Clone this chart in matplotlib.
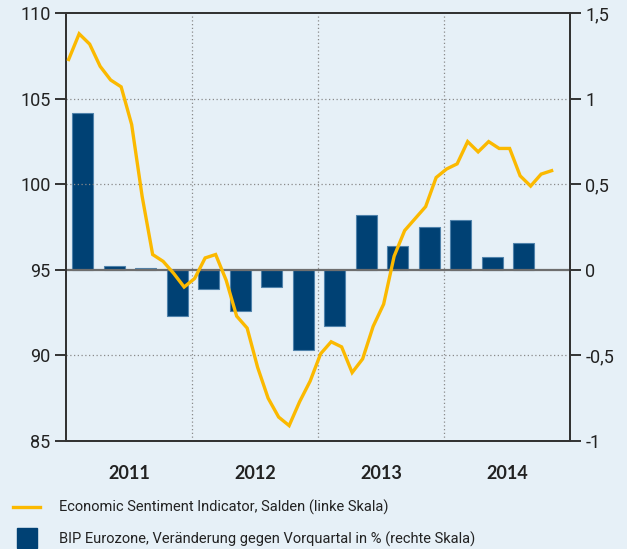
import numpy as np
import matplotlib
matplotlib.use('Agg')
import matplotlib.pyplot as plt
from matplotlib.lines import Line2D

plt.rcParams['font.family'] = ['Roboto', 'DejaVu Sans']

# Economic Sentiment Indicator, monthly Jan 2011 - Nov 2014 (left scale)
esi = [107.3, 108.8, 108.2, 106.9, 106.1, 105.7, 103.5, 99.3, 95.9, 95.5,
       94.8, 94.0, 94.5, 95.7, 95.9, 94.4, 92.3, 91.6, 89.3, 87.5,
       86.4, 85.9, 87.3, 88.5, 90.1, 90.8, 90.5, 89.0, 89.8, 91.7,
       93.0, 95.8, 97.3, 98.0, 98.7, 100.4, 100.9, 101.2, 102.5, 101.9,
       102.5, 102.1, 102.1, 100.5, 99.9, 100.6, 100.8]

# BIP Eurozone, quarter on quarter in % (right scale), Q1 2011 - Q3 2014
bip = [0.92, 0.02, 0.01, -0.27, -0.11, -0.24, -0.10, -0.47,
       -0.33, 0.32, 0.14, 0.25, 0.29, 0.075, 0.16]

years = ['2011', '2012', '2013', '2014']
left_ticks = [85, 90, 95, 100, 105, 110]
right_ticks = [-1, -0.5, 0, 0.5, 1, 1.5]
right_labels = ['-1', '-0,5', '0', '0,5', '1', '1,5']

bg = '#e6f0f7'
yellow = '#fbb900'
navy = '#004174'
dark = '#333333'

fig = plt.figure(figsize=(6.27, 5.49), dpi=100, facecolor=bg)
ax2 = fig.add_axes([0.1053, 0.1967, 0.8038, 0.7791])
ax2.set_facecolor(bg)
ax1 = ax2.twinx()
# line axes on top of the bars, left scale
ax1.yaxis.tick_left()
ax2.yaxis.tick_right()
ax1.set_zorder(ax2.get_zorder() + 1)
ax1.patch.set_visible(False)

months = np.arange(len(esi)) + 0.25
quarters = np.arange(len(bip)) * 3 + 1.6

bars = ax2.bar(quarters, bip, width=2.0, color=navy, edgecolor='#4f82ab',
               linewidth=0.8, zorder=2)
ax2.axhline(0, color='#6e6e6e', lw=1.6, zorder=3)
ax2.set_ylim(-1, 1.5)
ax2.set_yticks(right_ticks)
ax2.set_yticklabels(right_labels)

line, = ax1.plot(months, esi, color=yellow, lw=2.4, solid_joinstyle='miter',
                 zorder=5)
ax1.set_ylim(85, 110)
ax1.set_yticks(left_ticks)
ax1.set_xlim(0, 48)

# grid
for v in [90, 100, 105]:
    ax1.axhline(v, color='#8a8a8a', lw=0.9, ls=(0, (1, 2)), zorder=1)
for x in [12, 24, 36]:
    ax1.axvline(x, color='#8a8a8a', lw=0.9, ls=(0, (1, 2)), zorder=1)

for ax in (ax1, ax2):
    for s in ax.spines.values():
        s.set_color(dark)
        s.set_linewidth(1.4)
    ax.tick_params(axis='y', length=8, width=1.4, color=dark,
                   labelsize=13, labelcolor='#222222', pad=3)

# year labels sit on the visible (base) x axis
ax2.set_xticks([])
ax2.set_xticks([6, 18, 30, 42], minor=True)
ax2.set_xticklabels(years, minor=True, fontsize=13, fontweight='bold',
                    family='Lato', color='#222222')
ax2.tick_params(axis='x', which='minor', length=0, pad=17)

legend_bar = Line2D([], [], color=navy, marker='s', markersize=14, ls='none')
fig.legend([line, legend_bar],
           ['Economic Sentiment Indicator, Salden (linke Skala)',
            'BIP Eurozone, Veränderung gegen Vorquartal in % (rechte Skala)'],
           loc='lower left', bbox_to_anchor=(0.0, -0.02), frameon=False,
           fontsize=10.5, handlelength=1.85, handletextpad=1.3,
           labelspacing=1.1, labelcolor='#222222')

plt.savefig('out.png', dpi=100, facecolor=bg)
plt.close(fig)
